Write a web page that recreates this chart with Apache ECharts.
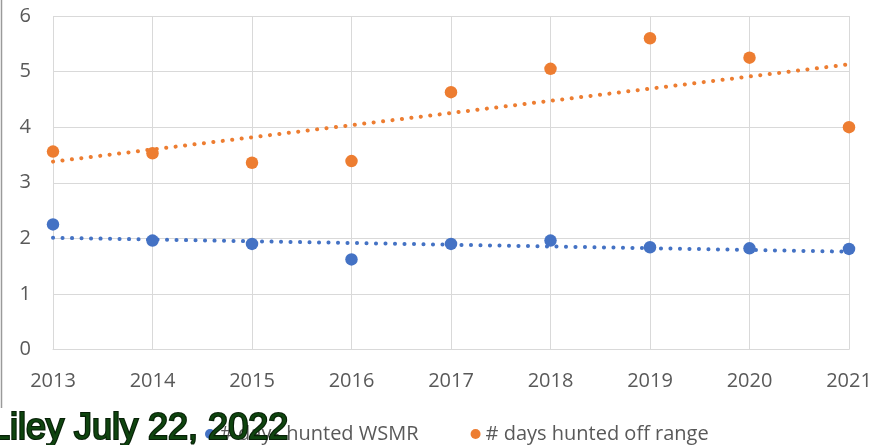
<!DOCTYPE html>
<html>
<head>
<meta charset="utf-8">
<script src="https://cdn.jsdelivr.net/npm/echarts@6/dist/echarts.min.js"></script>
<style>
  html, body { margin: 0; padding: 0; background: #fff; }
  #main { width: 888px; height: 445px; }
</style>
</head>
<body>
<div id="main"></div>
<script>
let years = [2013, 2014, 2015, 2016, 2017, 2018, 2019, 2020, 2021];
let wsmrDays = [2.25, 1.96, 1.90, 1.62, 1.90, 1.96, 1.84, 1.82, 1.81];
let offRangeDays = [3.56, 3.53, 3.36, 3.39, 4.63, 5.05, 5.60, 5.25, 4.00];
// trendline ends
let trendYears = [2013, 2021];
let wsmrTrend = [2.01, 1.76];
let offRangeTrend = [3.38, 5.13];

let chartDom = document.getElementById('main');
let myChart = echarts.init(chartDom);

let pairs = (xs, ys) => xs.map((x, i) => [x, ys[i]]);

let labelStyle = {
    color: '#595959',
    fontFamily: 'Open Sans',
    fontSize: 20
};

let option = {
    animation: false,
    grid: {
        left: 53,
        right: 39,
        top: 16,
        bottom: 95.5
    },
    legend: {
        data: ['# days hunted WSMR', '# days hunted off range'],
        left: 200,
        top: 419,
        icon: 'circle',
        itemWidth: 10,
        itemHeight: 10,
        itemGap: 52,
        textStyle: labelStyle
    },
    xAxis: {
        type: 'value',
        min: 2013,
        max: 2021,
        interval: 1,
        axisLine: { show: true, lineStyle: { color: '#d9d9d9' } },
        axisTick: { show: false },
        splitLine: { show: true, lineStyle: { color: '#d9d9d9' } },
        axisLabel: Object.assign({ margin: 22, formatter: v => String(v) }, labelStyle)
    },
    yAxis: {
        type: 'value',
        min: 0,
        max: 6,
        interval: 1,
        axisLine: { show: false },
        axisTick: { show: false },
        splitLine: { lineStyle: { color: '#d9d9d9' } },
        axisLabel: Object.assign({ margin: 22 }, labelStyle)
    },
    series: [
        {
            name: '# days hunted WSMR',
            type: 'scatter',
            data: pairs(years, wsmrDays),
            symbolSize: 12.5,
            itemStyle: { color: '#4472C4', opacity: 1 },
            z: 3
        },
        {
            name: '# days hunted off range',
            type: 'scatter',
            data: pairs(years, offRangeDays),
            symbolSize: 12.5,
            itemStyle: { color: '#ED7D31', opacity: 1 },
            z: 3
        },
        {
            name: 'wsmr trend',
            type: 'line',
            data: pairs(trendYears, wsmrTrend),
            showSymbol: false,
            lineStyle: { color: '#4472C4', width: 4, type: [0.1, 9.4], cap: 'round' },
            z: 2
        },
        {
            name: 'off range trend',
            type: 'line',
            data: pairs(trendYears, offRangeTrend),
            showSymbol: false,
            lineStyle: { color: '#ED7D31', width: 4, type: [0.1, 9.4], cap: 'round' },
            z: 2
        }
    ],
    graphic: [
        {
            type: 'line',
            shape: { x1: 1.5, y1: 0, x2: 1.5, y2: 408 },
            style: { stroke: '#9a9a9a', lineWidth: 1.5 }
        },
        {
            type: 'text',
            x: -10,
            y: 429,
            z: 100,
            style: {
                text: 'Liley July 22, 2022',
                font: '36px "Liberation Sans", Arial, sans-serif',
                fill: '#0f440f',
                stroke: '#072007',
                lineWidth: 2.2,
                verticalAlign: 'middle'
            }
        }
    ]
};

option && myChart.setOption(option);
</script>
</body>
</html>
